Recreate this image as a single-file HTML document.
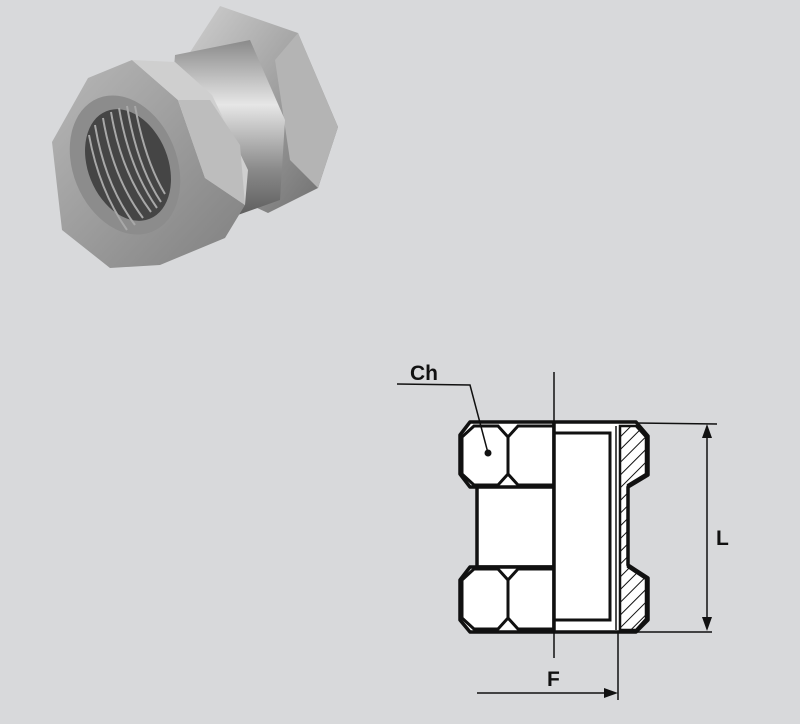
<!DOCTYPE html>
<html><head><meta charset="utf-8"><style>
html,body{margin:0;padding:0;background:#d8d9db;}
svg{display:block}
text{font-family:"Liberation Sans",Arial,sans-serif;font-weight:bold;fill:#111}
</style></head><body>
<svg width="800" height="724" viewBox="0 0 800 724" xmlns="http://www.w3.org/2000/svg">
<defs>
<linearGradient id="m1" x1="0" y1="0" x2="1" y2="1">
<stop offset="0" stop-color="#d0d0d0"/><stop offset="0.5" stop-color="#a0a0a0"/><stop offset="1" stop-color="#6a6a6a"/></linearGradient>
<linearGradient id="m2" x1="0" y1="0" x2="0" y2="1">
<stop offset="0" stop-color="#8a8a8a"/><stop offset="0.35" stop-color="#e6e6e6"/><stop offset="0.7" stop-color="#8a8a8a"/><stop offset="1" stop-color="#555"/></linearGradient>
<linearGradient id="m3" x1="0" y1="0" x2="1" y2="1">
<stop offset="0" stop-color="#b8b8b8"/><stop offset="1" stop-color="#808080"/></linearGradient>
<pattern id="hatch" width="9" height="9" patternUnits="userSpaceOnUse" patternTransform="rotate(45)">
<line x1="0" y1="0" x2="0" y2="9" stroke="#111" stroke-width="2"/></pattern>
</defs>
<rect width="800" height="724" fill="#d8d9db"/>
<!-- photo -->
<polygon points="220,6 298,33 338,127 318,188 268,213 240,200 185,60" fill="url(#m1)"/>
<polygon points="298,33 338,127 318,188 290,160 275,60" fill="#b4b4b4"/>
<polygon points="175,55 250,40 285,120 280,200 210,225 170,120" fill="url(#m2)"/>
<polygon points="52,142 88,78 132,60 178,100 205,178 245,205 225,238 160,265 110,268 62,230" fill="url(#m3)"/>
<polygon points="132,60 178,100 205,178 245,205 248,170 212,95 175,62" fill="#cfcfcf"/>
<polygon points="178,100 205,178 245,205 240,145 210,100" fill="#bdbdbd"/>
<ellipse cx="125" cy="165" rx="52" ry="72" transform="rotate(-22 125 165)" fill="#8c8c8c"/>
<ellipse cx="128" cy="165" rx="40" ry="58" transform="rotate(-22 128 165)" fill="#454545"/>
<g stroke="#a8a8a8" stroke-width="2" fill="none">
<path d="M95,125 q10,60 40,100"/><path d="M103,118 q10,60 40,100"/><path d="M111,112 q10,60 40,100"/><path d="M119,108 q10,60 38,100"/><path d="M127,106 q10,60 34,96"/><path d="M135,106 q10,55 30,88"/><path d="M89,135 q10,55 38,95"/>
</g>
<!-- drawing -->
<g fill="#fff" stroke="#111" stroke-width="3.5" stroke-linejoin="round">
<rect x="477" y="483" width="77" height="84"/>
<polygon points="470,422 554,422 554,487 470,487 460,474 460,435"/>
<polygon points="470,567 554,567 554,632 470,632 460,620 460,580"/>
<polygon points="554,422 636,422 648,436 648,475 628,487 628,565 648,578 648,620 636,632 554,632"/>
</g>
<g fill="none" stroke="#111" stroke-width="3">
<polygon points="462,437 474,426 498,426 508,437 508,474 498,485 474,485 462,474"/>
<polygon points="508,437 518,426 554,426 554,485 518,485 508,474"/>
<polygon points="462,580 474,569 498,569 508,580 508,618 498,629 474,629 462,618"/>
<polygon points="508,580 518,569 554,569 554,629 518,629 508,618"/>
<rect x="554" y="433" width="56" height="187"/>
</g>
<polygon points="620,426 636,426 646,437 646,474 628,485 628,567 646,579 646,619 636,630 620,630" fill="url(#hatch)" stroke="#111" stroke-width="2.5"/>
<line x1="616" y1="426" x2="616" y2="630" stroke="#111" stroke-width="1.5"/>
<!-- center line -->
<line x1="554" y1="372" x2="554" y2="658" stroke="#111" stroke-width="1.5"/>
<!-- Ch -->
<text x="410" y="380" font-size="21">Ch</text>
<polyline points="397,384 470,385 488,453" fill="none" stroke="#111" stroke-width="1.5"/>
<circle cx="488" cy="453" r="3.5" fill="#111"/>
<!-- L -->
<line x1="636" y1="423" x2="717" y2="424" stroke="#111" stroke-width="1.5"/>
<line x1="636" y1="632" x2="712" y2="632" stroke="#111" stroke-width="1.5"/>
<line x1="707" y1="430" x2="707" y2="626" stroke="#111" stroke-width="1.5"/>
<polygon points="707,424 702,438 712,438" fill="#111"/>
<polygon points="707,631 702,617 712,617" fill="#111"/>
<text x="716" y="545" font-size="21">L</text>
<!-- F -->
<line x1="618" y1="632" x2="618" y2="700" stroke="#111" stroke-width="1.5"/>
<line x1="477" y1="693" x2="612" y2="693" stroke="#111" stroke-width="1.5"/>
<polygon points="618,693 604,688 604,698" fill="#111"/>
<text x="547" y="686" font-size="21">F</text>
</svg>
</body></html>
